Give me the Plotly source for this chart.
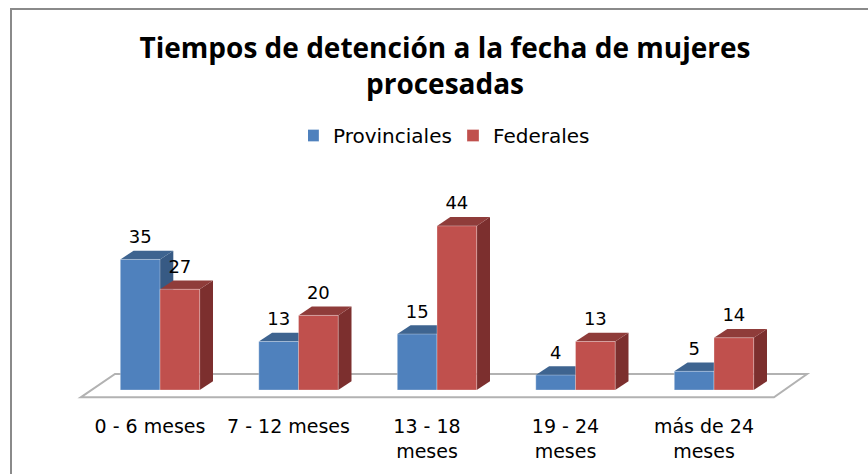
import plotly.graph_objects as go

categories = ["0 - 6 meses", "7 - 12 meses", "13 - 18<br>meses", "19 - 24<br>meses", "más de 24<br>meses"]
provinciales = [35, 13, 15, 4, 5]
federales = [27, 20, 44, 13, 14]

TITLE = "<b>Tiempos de detención a la fecha de mujeres<br>procesadas</b>"
FONT = "Open Sans"
TEXT_FONT = "DejaVu Sans"
BLUE, BLUE_TOP, BLUE_SIDE = "#4f81bd", "#3e6490", "#375a84"
RED, RED_TOP, RED_SIDE = "#c0504d", "#8f3c3a", "#7c2f2e"

W, H = 868, 474
MB = 74
PX_X = 138.5          # pixels per category
PX_Y = 3.73           # pixels per unit
X0 = 160.0            # pixel of the first category centre
Y0 = 390.0            # pixel of value 0
BAR = 39.7 / PX_X
DX = 13.3 / PX_X      # 3-D depth
DY = 8.8 / PX_Y
LABEL_UP = 21.0 / PX_Y

idx = list(range(len(categories)))
fig = go.Figure()

def prism(x_left, v, top, side):
    r = x_left + BAR
    return [
        dict(type="path", xref="x", yref="y", layer="below", line_width=0, fillcolor=side,
             path=f"M{r},0 L{r+DX},{DY} L{r+DX},{v+DY} L{r},{v} Z"),
        dict(type="path", xref="x", yref="y", layer="below", line_width=0, fillcolor=top,
             path=f"M{x_left},{v} L{x_left+DX},{v+DY} L{r+DX},{v+DY} L{r},{v} Z"),
    ]

shapes = [
    # chart frame (top and left edges only)
    dict(type="line", xref="paper", yref="paper", x0=11/W, x1=11/W, y0=-MB/(H-MB), y1=1-9/(H-MB),
         line=dict(color="#8a8a8a", width=2)),
    dict(type="line", xref="paper", yref="paper", x0=10/W, x1=1, y0=1-9/(H-MB), y1=1-9/(H-MB),
         line=dict(color="#8a8a8a", width=2)),
    # floor
    dict(type="path", xref="x", yref="y", layer="below", fillcolor="white",
         line=dict(color="#b2b2b2", width=2),
         path="M-0.5725,-1.96 L-0.325,4.29 L4.672,4.29 L4.433,-1.96 Z"),
]
for i in idx:
    shapes += prism(i - BAR, provinciales[i], BLUE_TOP, BLUE_SIDE)
    shapes += prism(i, federales[i], RED_TOP, RED_SIDE)

edge = dict(color="rgba(255,255,255,0.3)", width=1)
fig.add_bar(x=idx, y=provinciales, name="Provinciales", marker=dict(color=BLUE, line=edge))
fig.add_bar(x=idx, y=federales, name="Federales", marker=dict(color=RED, line=edge))

fig.add_scatter(
    x=[i - BAR / 2 for i in idx] + [i + BAR / 2 for i in idx],
    y=[v + LABEL_UP for v in provinciales + federales],
    text=[str(v) for v in provinciales + federales],
    mode="text", textposition="middle center",
    textfont=dict(family=TEXT_FONT, size=18, color="black"),
    showlegend=False, hoverinfo="skip",
)

fig.update_layout(
    width=W, height=H, autosize=False,
    margin=dict(l=0, r=0, t=0, b=MB, pad=0),
    paper_bgcolor="white", plot_bgcolor="white",
    barmode="group", bargap=1 - 2 * BAR, bargroupgap=0,
    title=dict(text=TITLE, x=445/W, xanchor="center", y=1-58/H, yanchor="middle",
               font=dict(family=FONT, size=28, color="black")),
    legend=dict(orientation="h", x=308/W, xanchor="left", y=1-116/(H-MB), yanchor="top",
                indentation=-15, entrywidth=130, entrywidthmode="pixels",
                font=dict(family=TEXT_FONT, size=20, color="black"), bgcolor="rgba(0,0,0,0)"),
    shapes=shapes,
    xaxis=dict(range=[-X0/PX_X, (W-X0)/PX_X], showgrid=False, zeroline=False, showline=False,
               tickmode="array", tickvals=[i - 10/PX_X for i in idx], ticktext=categories,
               ticks="", ticklabelstandoff=13, tickangle=0,
               tickfont=dict(family=TEXT_FONT, size=19, color="black")),
    yaxis=dict(range=[-(H-MB-Y0)/PX_Y, Y0/PX_Y], visible=False),
)
fig.write_html("out.html", config=dict(displayModeBar=False),
               post_script="document.body.style.margin='0';document.body.style.overflow='hidden';")
